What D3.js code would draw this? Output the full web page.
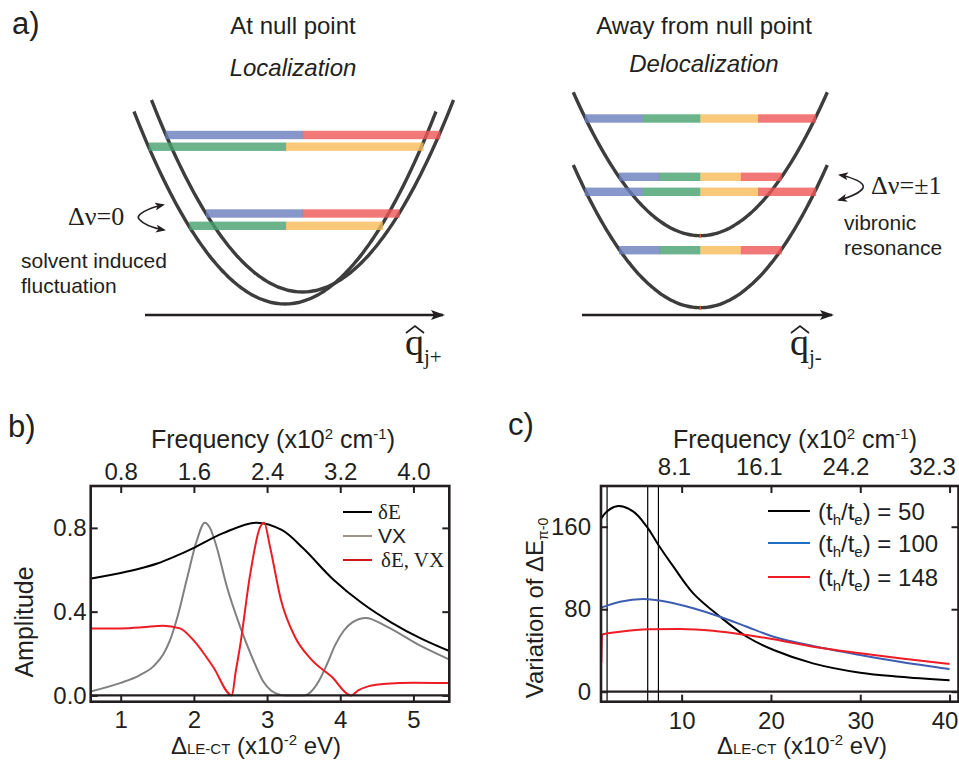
<!DOCTYPE html>
<html>
<head>
<meta charset="utf-8">
<script src="https://cdn.jsdelivr.net/npm/d3@7"></script>
<style>
body{margin:0;background:#fff}
svg text{font-family:"Liberation Sans",Arial,Helvetica,sans-serif;fill:#231f20}
svg text.serif{font-family:"Liberation Serif","Times New Roman",serif}
</style>
</head>
<body>
<svg id="fig" width="959" height="761"></svg>
<script>
// ---------- panel b : amplitudes vs detuning ----------
var bTicks = [1, 2, 3, 4, 5];
var bFreqLabels = ["0.8", "1.6", "2.4", "3.2", "4.0"];
var bYTicks = [0.0, 0.4, 0.8];

var dEx = [0.6, 1.0, 1.25, 1.5, 1.75, 2.0, 2.4, 2.85, 3.2, 3.5, 3.9, 4.3, 4.7, 5.1, 5.5];
var dEy = [0.558, 0.585, 0.605, 0.63, 0.665, 0.705, 0.775, 0.825, 0.79, 0.70, 0.555, 0.44, 0.348, 0.272, 0.21];

var vxX = [0.6, 1.0, 1.25, 1.45, 1.58, 1.67, 1.78, 1.9, 2.04, 2.15, 2.22, 2.31, 2.45, 2.63, 2.81, 2.95, 3.05, 3.15, 3.25, 3.5, 3.6, 3.71, 3.82, 3.93, 4.05, 4.17, 4.35, 4.63, 5.08, 5.5];
var vxY = [0.02, 0.06, 0.095, 0.14, 0.195, 0.26, 0.38, 0.55, 0.74, 0.825, 0.80, 0.71, 0.52, 0.33, 0.17, 0.065, 0.025, 0.006, 0.0, 0.0, 0.018, 0.07, 0.15, 0.24, 0.31, 0.35, 0.37, 0.33, 0.24, 0.17];

var bothX = [0.6, 1.0, 1.3, 1.58, 1.81, 1.99, 2.26, 2.52, 2.57, 2.63, 2.77, 2.9, 2.96, 3.04, 3.19, 3.38, 3.61, 3.88, 4.15, 4.25, 4.38, 4.63, 5.0, 5.5];
var bothY = [0.32, 0.32, 0.325, 0.333, 0.32, 0.265, 0.138, 0.0, 0.11, 0.233, 0.58, 0.80, 0.825, 0.71, 0.456, 0.28, 0.17, 0.09, 0.0, 0.025, 0.043, 0.056, 0.06, 0.059];

var bNames = ["\u03b4E", "VX", "\u03b4E, VX"];
var bColors = ["#000000", "#808080", "#ec1c24"];
var bLegendColors = ["#000000", "#a09488", "#d2161f"];

// ---------- panel c : variation of the energy gap ----------
var cTicks = [10, 20, 30, 40];
var cFreqLabels = ["8.1", "16.1", "24.2", "32.3"];
var cFreqLabelAt = [9.2, 18.7, 28.4, 38.1];
var cYTicks = [0, 80, 160];
var cMarkers = [1.65, 6.2, 7.4];

var r50x = [1.0, 1.6, 2.9, 4.6, 6.1, 7.4, 9.1, 11.3, 14.3, 17.3, 20.3, 24.7, 30, 34.4, 40];
var r50y = [168, 174.6, 180, 174.6, 160, 142.3, 121, 95.4, 72.7, 53.3, 40.4, 27.5, 18.4, 14.5, 11];
var r100x = [1.0, 3.1, 5.7, 8.3, 11.3, 14.3, 17.3, 20.3, 24.7, 30, 34.4, 40];
var r100y = [81.5, 87.3, 89.9, 87.3, 80.9, 72.7, 63, 53.3, 44.3, 35.6, 29.1, 22];
var r148x = [1.0, 1.1, 1.2, 3.1, 6.4, 9.8, 13.5, 17.3, 20.3, 24.7, 30, 34.4, 40];
var r148y = [28, 55, 55.7, 58.2, 60.5, 60.8, 59.2, 55, 50.8, 43.6, 37.2, 32.4, 27];

var cRatios = ["50", "100", "148"];
var cColors = ["#000000", "#3c5db0", "#ee1c25"];
var cLegendColors = ["#000000", "#1f6fc2", "#ee1c25"];

var ink = "#231f20";
var svg = d3.select("#fig");

var defs = svg.append("defs");
defs.append("marker").attr("id", "bigHead")
    .attr("markerUnits", "userSpaceOnUse")
    .attr("viewBox", "0 0 14 10").attr("refX", 12).attr("refY", 5)
    .attr("markerWidth", 14).attr("markerHeight", 10)
    .attr("orient", "auto")
  .append("path").attr("d", "M0,0 L14,5 L0,10 L3,5 Z").attr("fill", ink);
defs.append("marker").attr("id", "smallHead")
    .attr("markerUnits", "userSpaceOnUse")
    .attr("viewBox", "0 0 10 8").attr("refX", 8).attr("refY", 4)
    .attr("markerWidth", 10).attr("markerHeight", 8)
    .attr("orient", "auto-start-reverse")
  .append("path").attr("d", "M0,0 L10,4 L0,8 L2.5,4 Z").attr("fill", ink);

// ================= panel a (schematic) =================
var barColor = {blue: "#697dbd", green: "#46a06d", yellow: "#f7ba56", red: "#ef5656"};

function drawWell(g, w)
{
	var pts = d3.range(-1, 1.0001, 0.02).map(function(t){
		return [w.cx + t * w.halfW, w.bottom - w.depth * t * t];
	});
	g.append("path")
	  .attr("d", d3.line().curve(d3.curveBasis)(pts))
	  .attr("fill", "none")
	  .attr("stroke", "#3d3d3d")
	  .attr("stroke-width", 3.4);
}

function drawLevel(g, lv)
{
	var n = lv.colors.length;
	var seg = 2 * lv.halfW / n;
	for(var i = 0; i < n; i++)
	{
		g.append("rect")
		  .attr("x", lv.cx - lv.halfW + i * seg)
		  .attr("y", lv.cy - 4.2)
		  .attr("width", seg + 0.3)
		  .attr("height", 8.4)
		  .attr("fill", barColor[lv.colors[i]])
		  .attr("fill-opacity", 0.8);
	}
}

function drawAxisArrow(g, x0, x1, y)
{
	g.append("line")
	  .attr("x1", x0).attr("x2", x1).attr("y1", y).attr("y2", y)
	  .attr("stroke", ink).attr("stroke-width", 2.4)
	  .attr("marker-end", "url(#bigHead)");
}

function drawQ(g, x, sub)
{
	g.append("text").attr("class", "serif")
	  .attr("x", x).attr("y", 355)
	  .attr("font-size", 38).text("q");
	g.append("text").attr("class", "serif")
	  .attr("x", x + 19).attr("y", 364)
	  .attr("font-size", 21).text(sub);
	g.append("path")
	  .attr("d", "M" + (x + 1) + ",333 L" + (x + 10) + ",326 L" + (x + 19) + ",333")
	  .attr("fill", "none").attr("stroke", ink).attr("stroke-width", 1.6);
}

var gA = svg.append("g").attr("class", "panelA");

gA.append("text").attr("x", 12).attr("y", 34).attr("font-size", 31).text("a)");

// left: at null point
gA.append("text").attr("x", 293).attr("y", 34).attr("text-anchor", "middle").attr("font-size", 24).text("At null point");
gA.append("text").attr("x", 293).attr("y", 76).attr("text-anchor", "middle").attr("font-size", 24)
  .attr("font-style", "italic").text("Localization");

drawWell(gA, {cx: 285, bottom: 304, halfW: 151, depth: 192.5});
drawWell(gA, {cx: 302.5, bottom: 292, halfW: 151, depth: 192});
[
	{cy: 135, cx: 302.7, halfW: 137.3, colors: ["blue", "red"]},
	{cy: 146.7, cx: 286, halfW: 137.3, colors: ["green", "yellow"]},
	{cy: 213.5, cx: 302.7, halfW: 96.7, colors: ["blue", "red"]},
	{cy: 225.8, cx: 286, halfW: 96.7, colors: ["green", "yellow"]}
].forEach(function(lv){ drawLevel(gA, lv); });

drawAxisArrow(gA, 145, 443, 315);
drawQ(gA, 405, "j+");

gA.append("text").attr("class", "serif").attr("x", 68).attr("y", 225).attr("font-size", 26).text("\u0394\u03bd=0");
gA.append("path")
  .attr("d", "M163,205 C148,208 135,215 139,219 C143,224 153,228 164,230")
  .attr("fill", "none").attr("stroke", ink).attr("stroke-width", 1.6)
  .attr("marker-start", "url(#smallHead)").attr("marker-end", "url(#smallHead)");
gA.append("text").attr("x", 21).attr("y", 268).attr("font-size", 21).text("solvent induced");
gA.append("text").attr("x", 21).attr("y", 293).attr("font-size", 21).text("fluctuation");

// right: away from null point
gA.append("text").attr("x", 704).attr("y", 34).attr("text-anchor", "middle").attr("font-size", 24).text("Away from null point");
gA.append("text").attr("x", 704).attr("y", 72).attr("text-anchor", "middle").attr("font-size", 24)
  .attr("font-style", "italic").text("Delocalization");

drawWell(gA, {cx: 700.3, bottom: 235.7, halfW: 127, depth: 143.4});
drawWell(gA, {cx: 700.3, bottom: 307.7, halfW: 127, depth: 142.7});
[235.7, 307.7].forEach(function(yb){
	gA.append("line").attr("x1", 700.3).attr("x2", 700.3).attr("y1", yb - 2).attr("y2", yb + 2)
	  .attr("stroke", "#e0702a").attr("stroke-width", 1);
});
var four = ["blue", "green", "yellow", "red"];
[
	{cy: 118.5, cx: 700.3, halfW: 115.5, colors: four},
	{cy: 176.8, cx: 700.3, halfW: 81.2, colors: four},
	{cy: 191.8, cx: 700.3, halfW: 115.5, colors: four},
	{cy: 250.2, cx: 700.3, halfW: 81.2, colors: four}
].forEach(function(lv){ drawLevel(gA, lv); });

drawAxisArrow(gA, 582, 832, 315);
drawQ(gA, 790, "j-");

gA.append("path")
  .attr("d", "M840,175 C852,177 866,183 863,188 C860,193 850,197 839,200")
  .attr("fill", "none").attr("stroke", ink).attr("stroke-width", 1.6)
  .attr("marker-start", "url(#smallHead)").attr("marker-end", "url(#smallHead)");
gA.append("text").attr("class", "serif").attr("x", 871).attr("y", 194).attr("font-size", 26).text("\u0394\u03bd=\u00b11");
gA.append("text").attr("x", 844).attr("y", 230).attr("font-size", 21).text("vibronic");
gA.append("text").attr("x", 844).attr("y", 255).attr("font-size", 21).text("resonance");

// ================= helpers for b and c =================
function styleAxis(sel, fs)
{
	sel.attr("font-size", null).attr("font-family", null);
	sel.select(".domain").remove();
	sel.selectAll(".tick line").attr("stroke", ink).attr("stroke-width", 2);
	sel.selectAll(".tick text").attr("font-size", fs).attr("fill", ink);
}

function freqTitle(g, cx)
{
	var t = g.append("text").attr("x", cx).attr("y", 448).attr("text-anchor", "middle").attr("font-size", 25);
	t.append("tspan").text("Frequency (x10");
	t.append("tspan").attr("font-size", 15).attr("dy", -9).text("2");
	t.append("tspan").attr("dy", 9).text(" cm");
	t.append("tspan").attr("font-size", 15).attr("dy", -9).text("-1");
	t.append("tspan").attr("dy", 9).text(")");
}

function detuneTitle(g, cx)
{
	var t = g.append("text").attr("x", cx).attr("y", 754).attr("text-anchor", "middle").attr("font-size", 24);
	t.append("tspan").text("\u0394");
	t.append("tspan").attr("font-size", 15).text("LE-CT");
	t.append("tspan").text(" (x10");
	t.append("tspan").attr("font-size", 15).attr("dy", -9).text("-2");
	t.append("tspan").attr("dy", 9).text(" eV)");
}

function drawFrame(g, x, y)
{
	g.append("line")
	  .attr("x1", x.range()[0]).attr("x2", x.range()[1])
	  .attr("y1", y(0)).attr("y2", y(0))
	  .attr("stroke", ink).attr("stroke-width", 2.2);
	g.append("rect")
	  .attr("x", x.range()[0]).attr("y", y.range()[1])
	  .attr("width", x.range()[1] - x.range()[0])
	  .attr("height", y.range()[0] - y.range()[1])
	  .attr("fill", "none").attr("stroke", ink).attr("stroke-width", 2.6);
}

// ================= panel b =================
var xb = d3.scaleLinear().domain([0.59, 5.49]).range([90.7, 449.3]);
var yb = d3.scaleLinear().domain([-0.03, 1.0]).range([701.7, 486]);
var gB = svg.append("g").attr("class", "panelB");

gB.append("text").attr("x", 8).attr("y", 437).attr("font-size", 31).text("b)");
freqTitle(gB, 273);
detuneTitle(gB, 256);
gB.append("text")
  .attr("transform", "translate(33,622) rotate(-90)")
  .attr("text-anchor", "middle").attr("font-size", 25).text("Amplitude");

gB.append("clipPath").attr("id", "clipB").append("rect")
  .attr("x", xb.range()[0]).attr("y", yb.range()[1])
  .attr("width", xb.range()[1] - xb.range()[0]).attr("height", yb.range()[0] - yb.range()[1]);

var smoothB = d3.line().x(function(d){ return xb(d[0]); }).y(function(d){ return yb(d[1]); }).curve(d3.curveCatmullRom.alpha(0.5));
var lineB = d3.line().x(function(d){ return xb(d[0]); }).y(function(d){ return yb(d[1]); }).curve(d3.curveMonotoneX);
var bSeries = [d3.zip(dEx, dEy), d3.zip(vxX, vxY), d3.zip(bothX, bothY)];
var drawOrder = [1, 0, 2];
drawOrder.forEach(function(k){
	gB.append("path")
	  .attr("clip-path", "url(#clipB)")
	  .attr("d", (k == 0 ? smoothB : lineB)(bSeries[k]))
	  .attr("fill", "none").attr("stroke", bColors[k]).attr("stroke-width", 2);
});

drawFrame(gB, xb, yb);

gB.append("g").attr("transform", "translate(0," + yb.range()[0] + ")")
  .call(d3.axisBottom(xb).tickValues(bTicks).tickSize(-7).tickPadding(9).tickFormat(d3.format("d")))
  .call(styleAxis, 24);
gB.append("g").attr("transform", "translate(0," + yb.range()[1] + ")")
  .call(d3.axisTop(xb).tickValues(bTicks).tickSize(-7).tickPadding(6).tickFormat(function(d, i){ return bFreqLabels[i]; }))
  .call(styleAxis, 24);
gB.append("g").attr("transform", "translate(" + xb.range()[0] + ",0)")
  .call(d3.axisLeft(yb).tickValues(bYTicks).tickSize(-7).tickPadding(4).tickFormat(d3.format(".1f")))
  .call(styleAxis, 24);
gB.append("g").attr("transform", "translate(" + xb.range()[1] + ",0)")
  .call(d3.axisRight(yb).tickValues(bYTicks).tickSize(-7).tickFormat(""))
  .call(styleAxis, 24);

// legend b
var legB = gB.append("g").attr("class", "legendB");
bNames.forEach(function(name, i){
	var ly = 512 + i * 24;
	legB.append("line").attr("x1", 343).attr("x2", 372).attr("y1", ly).attr("y2", ly)
	  .attr("stroke", bLegendColors[i]).attr("stroke-width", 2);
	legB.append("text")
	  .attr("class", i == 1 ? null : "serif")
	  .attr("x", i == 2 ? 381 : 378).attr("y", ly + 7)
	  .attr("font-size", 21)
	  .text(name);
});

// ================= panel c =================
var xc = d3.scaleLinear().domain([0.97, 41]).range([601, 958.5]);
var yc = d3.scaleLinear().domain([-9.7, 199.5]).range([701.7, 486]);
var gC = svg.append("g").attr("class", "panelC");

gC.append("text").attr("x", 508).attr("y", 435).attr("font-size", 31).text("c)");
freqTitle(gC, 795);
detuneTitle(gC, 802);
var yl = gC.append("text")
  .attr("transform", "translate(543,608) rotate(-90)")
  .attr("text-anchor", "middle").attr("font-size", 24);
yl.append("tspan").text("Variation of \u0394E");
yl.append("tspan").attr("font-size", 14).attr("dy", 5).text("\u03c0-0");

gC.append("clipPath").attr("id", "clipC").append("rect")
  .attr("x", xc.range()[0]).attr("y", yc.range()[1])
  .attr("width", xc.range()[1] - xc.range()[0]).attr("height", yc.range()[0] - yc.range()[1]);

cMarkers.forEach(function(m){
	gC.append("line").attr("x1", xc(m)).attr("x2", xc(m))
	  .attr("y1", yc.range()[0]).attr("y2", yc.range()[1])
	  .attr("stroke", "#000").attr("stroke-width", 1.2);
});

var smoothC = d3.line().x(function(d){ return xc(d[0]); }).y(function(d){ return yc(d[1]); }).curve(d3.curveCatmullRom.alpha(0.5));
var lineC = d3.line().x(function(d){ return xc(d[0]); }).y(function(d){ return yc(d[1]); }).curve(d3.curveMonotoneX);
var cSeries = [d3.zip(r50x, r50y), d3.zip(r100x, r100y), d3.zip(r148x, r148y)];
cSeries.forEach(function(s, k){
	gC.append("path")
	  .attr("clip-path", "url(#clipC)")
	  .attr("d", (k == 2 ? lineC : smoothC)(s))
	  .attr("fill", "none").attr("stroke", cColors[k]).attr("stroke-width", 2);
});

drawFrame(gC, xc, yc);

gC.append("g").attr("transform", "translate(0," + yc.range()[0] + ")")
  .call(d3.axisBottom(xc).tickValues(cTicks).tickSize(-7).tickPadding(10).tickFormat(d3.format("d")))
  .call(styleAxis, 24)
  .selectAll(".tick text").attr("dx", function(d){ return d == 40 ? -5 : 0; });
gC.append("g").attr("transform", "translate(0," + yc.range()[1] + ")")
  .call(d3.axisTop(xc).tickValues(cTicks).tickSize(-7).tickFormat(""))
  .call(styleAxis, 24);
gC.append("g").attr("transform", "translate(" + xc.range()[0] + ",0)")
  .call(d3.axisLeft(yc).tickValues(cYTicks).tickSize(-7).tickPadding(10).tickFormat(d3.format("d")))
  .call(styleAxis, 24);
gC.append("g").attr("transform", "translate(" + xc.range()[1] + ",0)")
  .call(d3.axisRight(yc).tickValues(cYTicks).tickSize(-7).tickFormat(""))
  .call(styleAxis, 24);

gC.selectAll("text.freqLab")
  .data(cFreqLabels)
  .enter()
  .append("text")
  .attr("class", "freqLab")
  .attr("x", function(d, i){ return xc(cFreqLabelAt[i]); })
  .attr("y", 475)
  .attr("text-anchor", "middle")
  .attr("font-size", 24)
  .text(function(d){ return d; });

// legend c
var legC = gC.append("g").attr("class", "legendC");
cRatios.forEach(function(r, i){
	var ly = [511, 543, 577][i];
	legC.append("line").attr("x1", 768).attr("x2", 810).attr("y1", ly).attr("y2", ly)
	  .attr("stroke", cLegendColors[i]).attr("stroke-width", 2.2);
	var t = legC.append("text").attr("x", 818).attr("y", ly + 9).attr("font-size", 24);
	t.append("tspan").text("(t");
	t.append("tspan").attr("font-size", 15).attr("dy", 5).text("h");
	t.append("tspan").attr("dy", -5).text("/t");
	t.append("tspan").attr("font-size", 15).attr("dy", 5).text("e");
	t.append("tspan").attr("dy", -5).text(") = " + r);
});
</script>
</body>
</html>
